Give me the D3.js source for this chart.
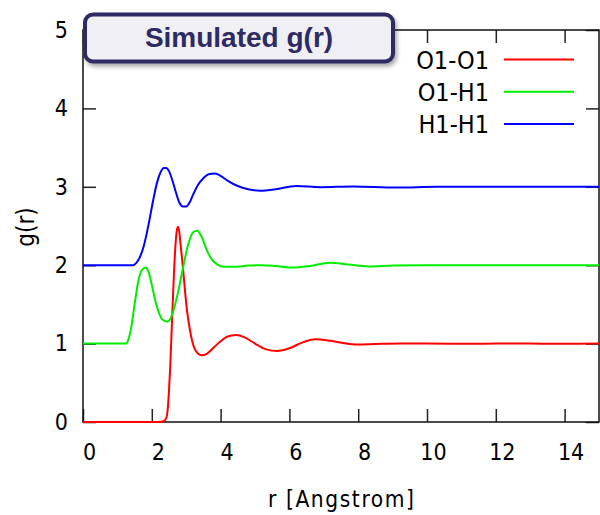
<!DOCTYPE html>
<html><head><meta charset="utf-8">
<script src="https://cdnjs.cloudflare.com/ajax/libs/d3/7.8.5/d3.min.js"></script>
<style>
html,body{margin:0;padding:0;background:#fff;}
svg{display:block;}
.tk{font-family:"DejaVu Sans Condensed","DejaVu Sans",sans-serif;font-stretch:condensed;}
</style></head><body>
<svg id="c" width="600" height="515"></svg>
<script>
// ---- data ----
const seriesNames = ["O1-O1", "O1-H1", "H1-H1"];
const seriesColors = ["#ff0000", "#00ee00", "#0000ff"];
const rO1O1 = [0, 2.2, 2.34, 2.42, 2.46, 2.5, 2.54, 2.58, 2.63, 2.68, 2.72, 2.76, 2.8, 2.84, 2.88, 2.92, 2.97, 3.03, 3.11, 3.18, 3.25, 3.35, 3.45, 3.6, 3.8, 4.0, 4.2, 4.45, 4.7, 5.0, 5.3, 5.65, 6.0, 6.35, 6.75, 7.2, 7.6, 7.95, 8.5, 9.2, 10, 11, 12, 13, 14, 15];
const gO1O1 = [0, 0, 0.01, 0.05, 0.15, 0.4, 0.75, 1.2, 1.75, 2.2, 2.42, 2.49, 2.42, 2.25, 2.08, 1.9, 1.65, 1.4, 1.17, 1.02, 0.93, 0.87, 0.85, 0.87, 0.95, 1.03, 1.09, 1.11, 1.08, 1.0, 0.93, 0.905, 0.94, 1.01, 1.055, 1.035, 1.005, 0.99, 0.995, 1.0, 1.0, 0.998, 1.0, 1.0, 0.998, 1.0];
const rO1H1 = [0, 1.1, 1.25, 1.3, 1.4, 1.5, 1.6, 1.7, 1.82, 1.9, 2.0, 2.1, 2.2, 2.3, 2.45, 2.6, 2.75, 2.9, 3.05, 3.2, 3.32, 3.45, 3.6, 3.75, 3.9, 4.1, 4.4, 4.8, 5.2, 5.6, 6.1, 6.6, 7.18, 7.7, 8.3, 9, 10, 11, 12, 13, 14, 15];
const gO1H1 = [1, 1, 1.0, 1.03, 1.2, 1.5, 1.78, 1.93, 1.97, 1.92, 1.75, 1.55, 1.4, 1.31, 1.28, 1.38, 1.63, 1.95, 2.25, 2.42, 2.44, 2.36, 2.19, 2.07, 2.01, 1.98, 1.98, 1.995, 2.0, 1.99, 1.97, 1.99, 2.03, 2.01, 1.985, 1.995, 2.0, 2.0, 2.0, 2.0, 2.0, 2.0];
const rH1H1 = [0, 1.45, 1.55, 1.65, 1.75, 1.85, 1.95, 2.05, 2.15, 2.25, 2.35, 2.42, 2.5, 2.6, 2.7, 2.8, 2.9, 3.0, 3.1, 3.2, 3.35, 3.5, 3.65, 3.84, 4.0, 4.2, 4.5, 4.8, 5.15, 5.6, 6.2, 6.9, 7.85, 9.1, 10.3, 11.5, 12.7, 14, 15];
const gH1H1 = [2, 2, 2.03, 2.1, 2.22, 2.4, 2.62, 2.85, 3.05, 3.18, 3.24, 3.24, 3.2, 3.08, 2.93, 2.8, 2.75, 2.75, 2.8, 2.9, 3.03, 3.11, 3.16, 3.17, 3.14, 3.08, 3.01, 2.97, 2.95, 2.97, 3.01, 2.995, 3.005, 2.99, 3.0, 3.0, 3.0, 3.0, 3.0];
const xTicks = [0, 2, 4, 6, 8, 10, 12, 14];
const yTicks = [0, 1, 2, 3, 4, 5];
const titleText = "Simulated g(r)";
const xLabel = "r [Angstrom]";
const yLabel = "g(r)";

const seriesR = [rO1O1, rO1H1, rH1H1];
const seriesG = [gO1O1, gO1H1, gH1H1];

// ---- layout ----
const L = 83, R = 599, T = 30, B = 422;
const x = d3.scaleLinear().domain([0, 15]).range([L, R]);
const y = d3.scaleLinear().domain([0, 5]).range([B, T]);
const svg = d3.select("#c");
svg.append("rect").attr("width", 600).attr("height", 515).attr("fill", "#fff");

// axes
const tickLen = 13;
const fmt = d3.format("d");
const gx = svg.append("g").attr("transform", `translate(0,${B})`)
  .call(d3.axisBottom(x).tickValues(xTicks).tickSizeInner(-tickLen).tickSizeOuter(0).tickPadding(22).tickFormat(fmt));
const gxt = svg.append("g").attr("transform", `translate(0,${T})`)
  .call(d3.axisTop(x).tickValues(xTicks).tickSizeInner(-tickLen).tickSizeOuter(0).tickFormat(""));
const gy = svg.append("g").attr("transform", `translate(${L},0)`)
  .call(d3.axisLeft(y).tickValues(yTicks).tickSizeInner(-tickLen).tickSizeOuter(0).tickPadding(15).tickFormat(fmt));
const gyr = svg.append("g").attr("transform", `translate(${R},0)`)
  .call(d3.axisRight(y).tickValues(yTicks).tickSizeInner(-tickLen).tickSizeOuter(0).tickFormat(""));
[gx, gxt, gy, gyr].forEach(g => {
  g.select(".domain").remove();
  g.selectAll("line").attr("stroke", "#222").attr("stroke-width", 1.5);
});
gx.selectAll("text").attr("class", "tk").attr("font-size", 23).attr("fill", "#000").attr("dx", 6);
gy.selectAll("text").attr("class", "tk").attr("font-size", 23).attr("fill", "#000");

// frame
svg.append("rect").attr("x", L).attr("y", T).attr("width", R - L).attr("height", B - T)
  .attr("fill", "none").attr("stroke", "#111").attr("stroke-width", 1.5);

// lines
const line = d3.line().x(d => x(d[0])).y(d => y(d[1])).curve(d3.curveMonotoneX);
const plot = svg.append("g");
seriesNames.forEach((n, i) => {
  const pts = seriesR[i].map((r, j) => [r, seriesG[i][j]]);
  plot.append("path").attr("d", line(pts)).attr("fill", "none")
    .attr("stroke", seriesColors[i]).attr("stroke-width", 2);
});

// title box
const defs = svg.append("defs");
const f = defs.append("filter").attr("id", "sh").attr("x", "-10%").attr("y", "-20%").attr("width", "130%").attr("height", "160%");
f.append("feDropShadow").attr("dx", 2).attr("dy", 3).attr("stdDeviation", 2).attr("flood-color", "#000").attr("flood-opacity", 0.35);
svg.append("rect").attr("x", 85).attr("y", 14.5).attr("width", 308).attr("height", 47).attr("rx", 8)
  .attr("fill", "#f0f0f4").attr("stroke", "#2e2b63").attr("stroke-width", 4).attr("filter", "url(#sh)");
svg.append("text").attr("x", 239).attr("y", 47).attr("text-anchor", "middle")
  .attr("font-family", "'Liberation Sans', Arial, sans-serif").attr("font-weight", "bold")
  .attr("font-size", 28).attr("fill", "#2e2b63").text(titleText);

// legend
const leg = svg.append("g");
seriesNames.forEach((n, i) => {
  const yy = 59.5 + i * 32.3;
  leg.append("text").attr("class", "tk").attr("x", 489).attr("y", yy).attr("dy", "0.36em")
    .attr("text-anchor", "end").attr("font-size", 25).attr("fill", "#000").text(n);
  leg.append("line").attr("x1", 504).attr("x2", 574).attr("y1", yy).attr("y2", yy)
    .attr("stroke", seriesColors[i]).attr("stroke-width", 2);
});

// axis labels
svg.append("text").attr("class", "tk").attr("x", 341).attr("y", 507).attr("text-anchor", "middle")
  .attr("font-size", 22.5).attr("textLength", 146).attr("lengthAdjust", "spacing").attr("fill", "#000").text(xLabel);
svg.append("text").attr("class", "tk").attr("transform", "translate(34,227) rotate(-90)")
  .attr("text-anchor", "middle").attr("font-size", 24).attr("fill", "#000").text(yLabel);
</script>
</body></html>
